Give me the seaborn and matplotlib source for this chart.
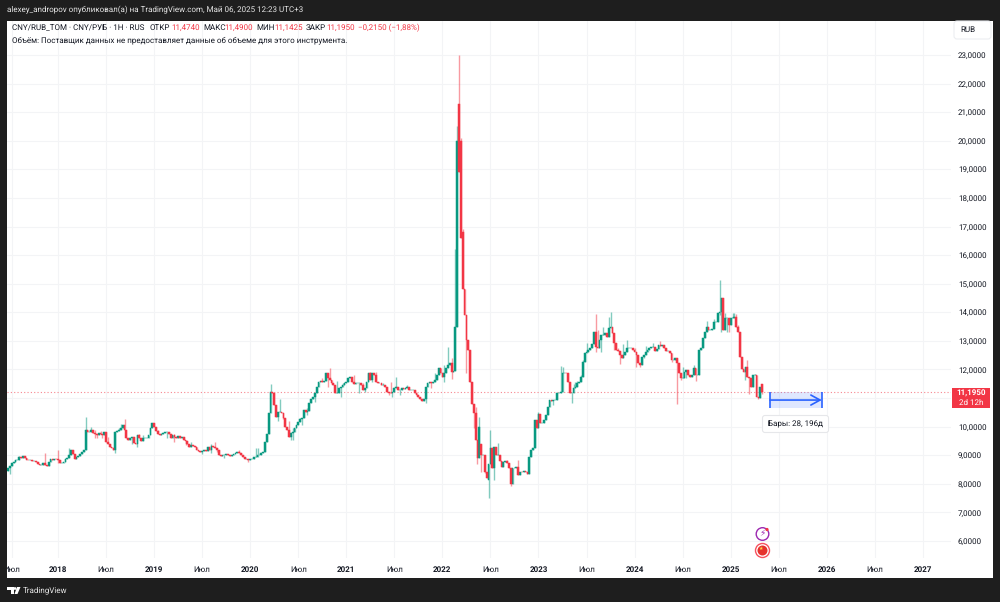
import numpy as np
import pandas as pd
import seaborn as sns
import matplotlib
matplotlib.use("Agg")
import matplotlib.pyplot as plt
from matplotlib.patches import Rectangle, Circle, FancyBboxPatch, Polygon
from matplotlib.transforms import Bbox

# weekly closes, one row per quarter (13 bars)
closes_2017 = [8.54,8.62,8.72,8.77,8.83,8.83,8.93,8.89,8.97,8.89,8.85,8.83,8.83,8.80,
               8.80,8.76,8.69,8.66,8.66,8.72,8.65,8.62,8.77,8.88,8.85,8.88,8.87]
closes_2018 = [8.83,8.72,8.74,8.77,8.86,8.89,9.01,9.18,9.04,8.86,8.93,8.97,9.04,
               9.12,9.18,9.88,9.82,9.82,9.88,9.79,9.76,9.71,9.79,9.76,9.71,9.82,
               9.47,9.41,9.30,9.24,9.18,9.82,9.86,9.88,9.94,10.06,9.88,9.59,9.53,
               9.62,9.65,9.44,9.41,9.71,9.59,9.51,9.62,9.62,9.62,9.71,9.94,10.11]
closes_2019 = [10.0,9.86,9.76,9.71,9.76,9.79,9.82,9.82,9.76,9.62,9.71,9.65,9.59,
               9.67,9.59,9.65,9.53,9.51,9.41,9.30,9.36,9.32,9.30,9.20,9.16,9.12,
               9.16,9.18,9.16,9.30,9.18,9.32,9.30,9.24,9.18,9.01,8.97,9.01,9.01,
               9.04,9.01,8.97,9.01,9.04,9.07,9.12,9.09,9.01,8.93,8.86,8.86,8.83]
closes_2020 = [8.86,8.86,8.93,8.95,9.01,9.01,9.09,9.12,9.47,9.76,10.46,11.22,11.16,
               10.75,10.35,10.52,10.52,10.46,10.29,10.0,9.88,9.65,9.77,9.82,9.94,10.06,
               10.17,10.26,10.29,10.58,10.52,10.56,10.81,10.95,11.05,11.16,11.40,11.57,11.61,
               11.57,11.61,11.87,11.69,11.63,11.51,11.46,11.16,11.16,11.34,11.40,11.46,11.51]
closes_2021 = [11.57,11.69,11.75,11.57,11.49,11.51,11.54,11.54,11.46,11.28,11.34,11.57,11.87,
               11.63,11.87,11.81,11.57,11.51,11.51,11.46,11.46,11.40,11.22,11.19,11.16,11.22,
               11.34,11.40,11.28,11.28,11.34,11.30,11.34,11.40,11.28,11.28,11.28,11.19,11.11,
               11.05,10.95,10.91,10.95,11.40,11.51,11.57,11.51,11.57,11.63,11.81,12.04,11.87]
closes_2022 = [11.75,11.87,12.04,12.16,12.21,11.92,11.95,13.5,20.0,18.9,16.6,14.8,13.9,
               13.03,12.67,11.57,10.8,10.46,9.55,8.9,10.0,9.0,9.0,8.43,8.2,8.7,
               9.24,8.55,9.3,9.0,9.0,8.81,8.6,8.77,8.8,8.72,8.54,8.0,8.54,
               8.54,8.6,8.31,8.42,8.40,8.46,8.42,8.36,8.95,9.18,9.24,10.23,9.94]
closes_2023 = [10.44,10.12,10.12,10.23,10.41,10.7,10.93,10.91,10.93,10.93,11.16,11.16,11.22,
               11.86,11.89,11.86,11.57,11.16,11.16,11.34,11.4,11.51,11.57,11.75,12.27,12.59,
               12.62,12.68,12.74,12.9,13.32,12.8,12.74,13.03,13.2,13.2,13.26,13.15,13.44,
               13.5,13.26,12.91,12.68,12.66,12.5,12.39,12.5,12.62,12.74,12.74,12.74,12.68]
closes_2024 = [12.62,12.5,12.21,12.16,12.42,12.5,12.62,12.68,12.74,12.8,12.8,12.66,12.7,
               12.86,12.82,12.86,12.74,12.66,12.66,12.56,12.33,12.33,12.39,12.21,11.86,11.69,
               11.69,11.92,11.98,11.81,11.75,11.81,12.04,11.81,11.81,12.68,12.74,13.09,13.32,
               13.5,13.38,13.38,13.4,13.67,13.67,13.96,14.02,14.49,13.38,13.79,13.79,13.56]
closes_2025 = [13.79,13.79,13.82,13.5,13.32,12.45,12.0,11.92,12.1,11.75,11.69,11.4,11.81,
               11.81,11.05,10.99,11.4,11.195]

# opens that do not continue the previous close (bar number: price; bar 0 = first of 2018)
gap_opens = {217: 21.3, 218: 20.0, 219: 16.8, 229: 9.4, 233: 8.13}

# wicks long enough to be seen in the picture (bar number: price)
wick_highs = {-21:8.99,-7:9.09,0:9.18,6:9.24,15:10.32,18:10.0,20:9.88,23:9.86,27:9.65,33:9.95,36:10.25,34:10.1,
              44:9.76,46:9.71,50:9.76,54:9.88,63:9.76,72:9.45,83:9.41,85:9.47,98:9.18,107:9.24,108:9.24,
              115:11.49,120:10.95,125:10.2,127:9.95,131:10.29,135:10.64,139:11.05,143:11.69,147:12.04,
              151:11.6,154:11.51,157:11.54,160:11.8,165:11.51,169:11.92,172:11.92,176:11.51,180:11.57,183:11.75,
              189:11.46,202:11.57,204:11.89,207:11.75,209:12.15,211:12.8,213:12.4,215:16.2,216:20.5,217:23.0,
              218:20.1,219:16.9,226:10.7,228:10.33,234:9.88,238:9.42,243:8.85,249:8.85,260:10.52,272:12.12,
              273:12.1,279:11.5,280:11.57,281:11.6,283:11.81,284:12.33,286:12.94,291:13.93,292:13.38,295:13.5,
              298:13.85,299:14.0,303:12.74,306:12.9,308:13.03,312:12.74,318:12.82,322:12.92,326:13.0,334:12.35,
              335:12.39,338:12.1,344:12.15,351:13.7,355:13.75,358:15.13,361:13.96,365:13.96,366:13.96,367:13.95,
              368:13.56,373:12.33,377:11.83,381:11.49}
wick_lows = {-26:8.35,-6:8.7,0:8.72,15:9.71,20:9.62,21:9.59,24:9.59,31:9.09,37:9.76,40:9.41,43:9.3,59:9.62,
             63:9.47,69:9.36,78:9.06,83:9.09,86:9.12,90:8.9,103:8.78,114:10.14,119:10.2,122:10.25,123:10.1,126:9.55,
             127:9.55,132:10.06,135:10.4,139:10.87,146:11.4,153:11.05,163:11.16,166:11.2,170:11.57,
             179:11.1,181:11.02,185:11.1,199:10.82,202:11.34,209:11.57,213:11.65,221:11.86,225:9.94,227:8.71,
             229:8.42,231:8.37,233:7.49,236:8.13,245:7.92,268:10.75,278:10.81,291:12.62,294:12.6,301:12.68,
             304:12.19,313:12.08,315:12.08,317:12.39,332:12.27,335:10.8,337:11.63,340:11.69,345:11.6,358:13.9,
             359:13.32,361:13.38,362:13.3,363:13.32,370:12.16,372:11.63,374:11.14,379:10.96,381:11.1425}

price_ticks = list(range(6, 24))
price_labels = ["" if p == 11 else f"{p},0000" for p in price_ticks]
year_labels = ["2018","2019","2020","2021","2022","2023","2024","2025","2026","2027"]
july_label = "Июл"
last_price = 11.195
range_bars = (385.3, 413.3)       # blue range tool, bars
range_prices = (10.65, 11.21, 10.93)

UP, DOWN = "#089981", "#f23645"
DARK = "#1e1e1e"; TXT = "#131722"; GRID = "#f3f4f6"

sns.set_theme(style="white")
plt.rcParams['font.family'] = ['Roboto', 'DejaVu Sans']
plt.rcParams['text.hinting'] = 'no_hinting'
plt.rcParams['text.hinting_factor'] = 1

for lst, n in [(closes_2017,27),(closes_2018,52),(closes_2019,52),(closes_2020,52),(closes_2021,52),
               (closes_2022,52),(closes_2023,52),(closes_2024,52),(closes_2025,18)]:
    assert len(lst) == n, (n, len(lst))
closes = closes_2017+closes_2018+closes_2019+closes_2020+closes_2021+closes_2022+closes_2023+closes_2024+closes_2025
bars = np.arange(-27, -27+len(closes))
opens = [closes[0]-0.08] + closes[:-1]
df = pd.DataFrame({"bar": bars, "open": opens, "close": closes})
for k, v in gap_opens.items():
    df.loc[df.bar == k, "open"] = v
df.loc[df.bar == 381, "open"] = 11.474
df["top"] = df[["open","close"]].max(axis=1)
df["bot"] = df[["open","close"]].min(axis=1)
df["high"] = df["top"]; df["low"] = df["bot"]
for k, v in wick_highs.items():
    m = df.bar == k
    df.loc[m, "high"] = np.maximum(df.loc[m, "high"], v)
for k, v in wick_lows.items():
    m = df.bar == k
    df.loc[m, "low"] = np.minimum(df.loc[m, "low"], v)
df["rising"] = df.close >= df.open

W, H = 1000, 602
fig = plt.figure(figsize=(W/100, H/100), dpi=100, facecolor=DARK)
ui = fig.add_axes([0,0,1,1], zorder=0); ui.set_xlim(0,W); ui.set_ylim(H,0); ui.axis("off")
ui.add_patch(Rectangle((7,20.5), 986, 557.5, fc="white", ec="none"))

ax = fig.add_axes([7/W, (H-558)/H, 944/W, 537.5/H], zorder=1)
ax.set_facecolor("white")

for rising, col in [(True, UP), (False, DOWN)]:
    d = df[df.rising == rising]
    ax.vlines(d.bar, d.low, d.high, color=col, lw=1.0, alpha=0.5, zorder=3)
    sns.barplot(x=d.bar.values, y=(d.top-d.bot).values, bottom=d.bot.values, native_scale=True,
                color=col, saturation=1, width=0.95, errorbar=None, ax=ax,
                linewidth=0.35, edgecolor=col, zorder=4)

ax.set_xlim((7-58)/1.848, (951-58)/1.848)
ax.set_ylim(6+(541-558)/28.59, 6+(541-20.5)/28.59)
ax.axhline(last_price, color=DOWN, lw=0.8, ls=(0,(1,2)), alpha=0.6, zorder=2)

year_pos = [52*i for i in range(len(year_labels))]
july_pos = [-25] + [26+52*i for i in range(len(year_labels)-1)]
ax.set_xticks(year_pos + july_pos)
ax.set_xticklabels(year_labels + [july_label]*len(july_pos), fontsize=6.0, color=TXT)
for t in ax.get_xticklabels()[:len(year_labels)]:
    t.set_fontweight("bold")
ax.yaxis.tick_right()
ax.set_yticks(price_ticks)
ax.set_yticklabels(price_labels, fontsize=6.0, color=TXT)
ax.tick_params(axis="both", length=0)
ax.tick_params(axis="x", pad=5.5)
ax.tick_params(axis="y", pad=5)
ax.set_xlabel(""); ax.set_ylabel("")
ax.grid(True, color=GRID, lw=0.75); ax.set_axisbelow(True)
sns.despine(ax=ax, left=True, bottom=True, top=True, right=True)
first_july = ax.get_xticklabels()[len(year_labels)]
first_july.set_clip_box(Bbox([[7,0],[W,H]]))
first_july.set_clip_on(True)

# range tool
x0, x1 = range_bars; y0, y1, ym = range_prices
ax.add_patch(Rectangle((x0, y0), x1-x0, y1-y0, fc="#2962ff", alpha=0.15, ec="none", zorder=5))
ax.vlines([x0, x1], y0, y1, color="#2962ff", lw=1.2, zorder=6)
ax.annotate("", xy=(x1, ym), xytext=(x0, ym), zorder=6,
            arrowprops=dict(arrowstyle="->,head_length=0.55,head_width=0.3", color="#2962ff", lw=1.2, shrinkA=0, shrinkB=0))

over = fig.add_axes([0,0,1,1], zorder=2); over.set_xlim(0,W); over.set_ylim(H,0); over.axis("off"); over.patch.set_alpha(0)
T = dict(fontsize=5.5, va="center", ha="left")
over.text(7, 9.5, "alexey_andropov опубликовал(а) на TradingView.com, Май 06, 2025 12:23 UTC+3", color="#e6e6e6", **T)
over.text(12, 28, "CNY/RUB_TOM · CNY/РУБ · 1Н · RUS", color=TXT, **T)
for x, s, c in [(150,"ОТКР",TXT),(171,"11,4740",DOWN),(203,"МАКС",TXT),(224,"11,4900",DOWN),(256,"МИН",TXT),
                (274,"11,1425",DOWN),(306,"ЗАКР",TXT),(326,"11,1950",DOWN),(358,"−0,2150 (−1,88%)",DOWN)]:
    over.text(x, 28, s, color=c, **T)
over.text(12, 40, "Объём: Поставщик данных не предоставляет данные об объеме для этого инструмента.", color=TXT, **T)
over.add_patch(FancyBboxPatch((956,23), 33, 14, boxstyle="round,pad=2,rounding_size=3", fc="white", ec="#eceef1", lw=0.8))
over.text(960, 30, "RUB", color=TXT, fontsize=5.8, va="center", ha="left")

# price tag
over.add_patch(Rectangle((952,388), 38, 20, fc=DOWN, ec="none"))
over.text(971, 393.5, "11,1950", color="white", fontsize=5.9, fontweight="bold", ha="center", va="center")
over.text(971, 402.5, "2d 12h", color="white", fontsize=5.6, ha="center", va="center")

# tooltip
over.add_patch(FancyBboxPatch((764,417), 63, 14, boxstyle="round,pad=1.5,rounding_size=2.5", fc="#ffffff", ec="#e6e7ea", lw=0.8))
over.text(795.5, 424, "Бары: 28, 196д", color=TXT, fontsize=5.5, ha="center", va="center")

# event icons
over.add_patch(Circle((762.5,534), 6.3, fc="white", ec="#9c27b0", lw=1.0))
over.text(762.5, 534, "⚡", color="#9c27b0", fontsize=6.5, ha="center", va="center", family="DejaVu Sans")
over.add_patch(Circle((767,529.5), 1.6, fc=DOWN, ec="none"))
over.add_patch(Circle((762.5,550.5), 7, fc="white", ec="#f7525f", lw=1.0))
over.add_patch(Circle((762.5,550.5), 5, fc="#e5322d", ec="none"))
over.text(760.5, 549, "★", color="#ffd54a", fontsize=3.5, ha="center", va="center", family="DejaVu Sans")

# footer logo
over.add_patch(Polygon([(7,587),(13.5,587),(13.5,594),(10.5,594),(10.5,590),(7,590)], fc="white", ec="none"))
over.add_patch(Circle((15,588.5), 1.4, fc="white", ec="none"))
over.add_patch(Polygon([(17,587),(20.5,587),(17.5,594),(14.5,594)], fc="white", ec="none"))
over.text(23, 590.5, "TradingView", color="#e6e6e6", fontsize=6.1, va="center", ha="left")

fig.savefig("out.png", dpi=100, facecolor=DARK)
